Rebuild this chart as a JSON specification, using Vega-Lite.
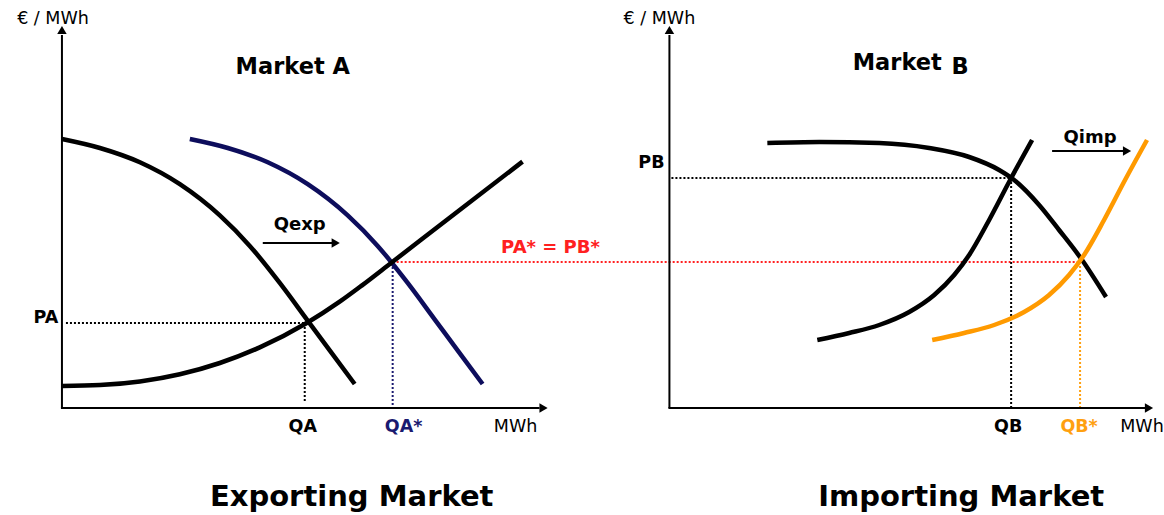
{
  "$schema": "https://vega.github.io/schema/vega-lite/v6.json",
  "width": 1164,
  "height": 515,
  "padding": 0,
  "autosize": {"type": "fit", "contains": "padding"},
  "background": "white",
  "config": {"view": {"stroke": null}, "text": {"font": "DejaVu Sans"}},
  "datasets": {
    "curves": [
      {"series": "Demand A", "x": 62, "y": 376},
      {"series": "Demand A", "x": 100, "y": 367},
      {"series": "Demand A", "x": 140, "y": 352.7},
      {"series": "Demand A", "x": 180, "y": 330.8},
      {"series": "Demand A", "x": 220, "y": 299.6},
      {"series": "Demand A", "x": 250, "y": 269.1},
      {"series": "Demand A", "x": 280, "y": 232.1},
      {"series": "Demand A", "x": 307, "y": 195.7},
      {"series": "Demand A", "x": 330, "y": 164.6},
      {"series": "Demand A", "x": 355, "y": 131},
      {"series": "Demand A + export", "x": 190, "y": 376},
      {"series": "Demand A + export", "x": 228, "y": 367},
      {"series": "Demand A + export", "x": 268, "y": 352.7},
      {"series": "Demand A + export", "x": 308, "y": 330.8},
      {"series": "Demand A + export", "x": 348, "y": 299.6},
      {"series": "Demand A + export", "x": 378, "y": 269.1},
      {"series": "Demand A + export", "x": 408, "y": 232.1},
      {"series": "Demand A + export", "x": 435, "y": 195.7},
      {"series": "Demand A + export", "x": 458, "y": 164.6},
      {"series": "Demand A + export", "x": 483, "y": 131},
      {"series": "Supply A", "x": 62, "y": 129},
      {"series": "Supply A", "x": 100, "y": 129.9},
      {"series": "Supply A", "x": 140, "y": 133.5},
      {"series": "Supply A", "x": 180, "y": 140.7},
      {"series": "Supply A", "x": 220, "y": 152},
      {"series": "Supply A", "x": 260, "y": 167.6},
      {"series": "Supply A", "x": 307, "y": 192},
      {"series": "Supply A", "x": 340, "y": 213.3},
      {"series": "Supply A", "x": 362, "y": 229.4},
      {"series": "Supply A", "x": 392, "y": 252.5},
      {"series": "Supply A", "x": 450, "y": 297.2},
      {"series": "Supply A", "x": 523, "y": 353.4},
      {"series": "Demand B", "x": 768, "y": 372},
      {"series": "Demand B", "x": 820, "y": 373},
      {"series": "Demand B", "x": 880, "y": 372},
      {"series": "Demand B", "x": 930, "y": 367},
      {"series": "Demand B", "x": 970, "y": 358},
      {"series": "Demand B", "x": 1000, "y": 345},
      {"series": "Demand B", "x": 1015, "y": 335},
      {"series": "Demand B", "x": 1040, "y": 310},
      {"series": "Demand B", "x": 1060, "y": 285},
      {"series": "Demand B", "x": 1083, "y": 255},
      {"series": "Demand B", "x": 1107, "y": 218},
      {"series": "Supply B", "x": 818, "y": 175},
      {"series": "Supply B", "x": 850, "y": 182},
      {"series": "Supply B", "x": 880, "y": 190},
      {"series": "Supply B", "x": 910, "y": 203},
      {"series": "Supply B", "x": 935, "y": 220},
      {"series": "Supply B", "x": 955, "y": 240},
      {"series": "Supply B", "x": 970, "y": 260},
      {"series": "Supply B", "x": 990, "y": 295},
      {"series": "Supply B", "x": 1011, "y": 335},
      {"series": "Supply B", "x": 1033, "y": 375},
      {"series": "Supply B + import", "x": 933, "y": 175},
      {"series": "Supply B + import", "x": 965, "y": 182},
      {"series": "Supply B + import", "x": 995, "y": 190},
      {"series": "Supply B + import", "x": 1025, "y": 203},
      {"series": "Supply B + import", "x": 1050, "y": 220},
      {"series": "Supply B + import", "x": 1070, "y": 240},
      {"series": "Supply B + import", "x": 1085, "y": 260},
      {"series": "Supply B + import", "x": 1105, "y": 295},
      {"series": "Supply B + import", "x": 1126, "y": 335},
      {"series": "Supply B + import", "x": 1148, "y": 375}
    ],
    "axes": [
      {"name": "A price axis", "x": 62, "y": 107, "x2": 62, "y2": 480},
      {"name": "A quantity axis", "x": 61, "y": 107, "x2": 540, "y2": 107},
      {"name": "B price axis", "x": 670, "y": 107, "x2": 670, "y2": 480},
      {"name": "B quantity axis", "x": 669, "y": 107, "x2": 1146, "y2": 107},
      {"name": "Qexp arrow", "x": 263, "y": 272, "x2": 333, "y2": 272},
      {"name": "Qimp arrow", "x": 1053, "y": 364, "x2": 1124, "y2": 364}
    ],
    "heads": [
      {"dir": "up", "x": 62, "y": 485},
      {"dir": "right", "x": 544, "y": 107},
      {"dir": "up", "x": 670, "y": 485},
      {"dir": "right", "x": 1150, "y": 107},
      {"dir": "right", "x": 336, "y": 272},
      {"dir": "right", "x": 1128, "y": 364}
    ],
    "guides": [
      {"group": "autarky", "x": 66, "y": 192, "x2": 306, "y2": 192},
      {"group": "autarky", "x": 305, "y": 192, "x2": 305, "y2": 112},
      {"group": "export", "x": 393, "y": 252, "x2": 393, "y2": 108},
      {"group": "coupled", "x": 393, "y": 253, "x2": 1082, "y2": 253},
      {"group": "autarky", "x": 672, "y": 337, "x2": 1012, "y2": 337},
      {"group": "autarky", "x": 1012, "y": 337, "x2": 1012, "y2": 108},
      {"group": "import", "x": 1081, "y": 253, "x2": 1081, "y2": 108}
    ],
    "labels": [
      {"role": "axis", "group": "autarky", "text": "€ / MWh", "x": 53, "y": 496},
      {"role": "axis", "group": "autarky", "text": "€ / MWh", "x": 660, "y": 496},
      {"role": "axis", "group": "autarky", "text": "MWh", "x": 516, "y": 88},
      {"role": "axis", "group": "autarky", "text": "MWh", "x": 1143, "y": 88},
      {"role": "tick", "group": "autarky", "text": "PA", "x": 46, "y": 197},
      {"role": "tick", "group": "autarky", "text": "QA", "x": 303, "y": 88},
      {"role": "tick", "group": "export", "text": "QA*", "x": 404, "y": 88},
      {"role": "tick", "group": "autarky", "text": "PB", "x": 652, "y": 352},
      {"role": "tick", "group": "autarky", "text": "QB", "x": 1009, "y": 88},
      {"role": "tick", "group": "import", "text": "QB*", "x": 1080, "y": 88},
      {"role": "note", "group": "autarky", "text": "Qexp", "x": 300, "y": 290},
      {"role": "note", "group": "autarky", "text": "Qimp", "x": 1091, "y": 377},
      {"role": "note", "group": "coupled", "text": "PA* = PB*", "x": 551, "y": 267},
      {"role": "market", "group": "autarky", "text": "Market  A", "x": 293, "y": 448},
      {"role": "market", "group": "autarky", "text": "Market", "x": 898, "y": 452},
      {"role": "market", "group": "autarky", "text": "B", "x": 961, "y": 448},
      {"role": "title", "group": "autarky", "text": "Exporting Market", "x": 352, "y": 18},
      {"role": "title", "group": "autarky", "text": "Importing Market", "x": 962, "y": 18}
    ]
  },
  "layer": [
    {
      "data": {"name": "guides"},
      "mark": {"type": "rule", "strokeWidth": 2, "strokeDash": [2, 2]},
      "encoding": {
        "x": {"field": "x", "type": "quantitative", "scale": {"domain": [0, 1164], "nice": false, "zero": false}, "axis": null},
        "y": {"field": "y", "type": "quantitative", "scale": {"domain": [0, 515], "nice": false, "zero": false}, "axis": null},
        "x2": {"field": "x2"},
        "y2": {"field": "y2"},
        "color": {"field": "group", "type": "nominal", "legend": null, "scale": {"domain": ["autarky", "export", "coupled", "import", "Demand A", "Demand A + export", "Supply A", "Demand B", "Supply B", "Supply B + import"], "range": ["#000000", "#1a1a70", "#ff2020", "#ffa010", "#000000", "#0d0d5c", "#000000", "#000000", "#000000", "#ff9a00"]}}
      }
    },
    {
      "data": {"name": "curves"},
      "mark": {"type": "line", "strokeWidth": 4.5, "interpolate": "monotone", "strokeCap": "butt"},
      "encoding": {
        "x": {"field": "x", "type": "quantitative"},
        "y": {"field": "y", "type": "quantitative"},
        "color": {"field": "series", "type": "nominal", "legend": null}
      }
    },
    {
      "data": {"name": "axes"},
      "mark": {"type": "rule", "strokeWidth": 2, "color": "black"},
      "encoding": {
        "x": {"field": "x", "type": "quantitative"},
        "y": {"field": "y", "type": "quantitative"},
        "x2": {"field": "x2"},
        "y2": {"field": "y2"}
      }
    },
    {
      "data": {"name": "heads"},
      "mark": {"type": "point", "filled": true, "color": "black", "opacity": 1, "size": 90},
      "encoding": {
        "x": {"field": "x", "type": "quantitative"},
        "y": {"field": "y", "type": "quantitative"},
        "shape": {"field": "dir", "type": "nominal", "legend": null, "scale": {"domain": ["up", "right"], "range": ["triangle-up", "triangle-right"]}}
      }
    },
    {
      "data": {"name": "labels"},
      "transform": [{"filter": "datum.role === 'axis'"}],
      "mark": {"type": "text", "fontSize": 17.5, "baseline": "middle", "align": "center"},
      "encoding": {
        "x": {"field": "x", "type": "quantitative"},
        "y": {"field": "y", "type": "quantitative"},
        "text": {"field": "text"},
        "color": {"field": "group", "type": "nominal", "legend": null}
      }
    },
    {
      "data": {"name": "labels"},
      "transform": [{"filter": "datum.role === 'tick'"}],
      "mark": {"type": "text", "fontSize": 17.5, "fontWeight": "bold", "baseline": "middle", "align": "center"},
      "encoding": {
        "x": {"field": "x", "type": "quantitative"},
        "y": {"field": "y", "type": "quantitative"},
        "text": {"field": "text"},
        "color": {"field": "group", "type": "nominal", "legend": null}
      }
    },
    {
      "data": {"name": "labels"},
      "transform": [{"filter": "datum.role === 'note'"}],
      "mark": {"type": "text", "fontSize": 18, "fontWeight": "bold", "baseline": "middle", "align": "center"},
      "encoding": {
        "x": {"field": "x", "type": "quantitative"},
        "y": {"field": "y", "type": "quantitative"},
        "text": {"field": "text"},
        "color": {"field": "group", "type": "nominal", "legend": null}
      }
    },
    {
      "data": {"name": "labels"},
      "transform": [{"filter": "datum.role === 'market'"}],
      "mark": {"type": "text", "fontSize": 22.5, "fontWeight": "bold", "baseline": "middle", "align": "center"},
      "encoding": {
        "x": {"field": "x", "type": "quantitative"},
        "y": {"field": "y", "type": "quantitative"},
        "text": {"field": "text"},
        "color": {"field": "group", "type": "nominal", "legend": null}
      }
    },
    {
      "data": {"name": "labels"},
      "transform": [{"filter": "datum.role === 'title'"}],
      "mark": {"type": "text", "fontSize": 29, "fontWeight": "bold", "baseline": "middle", "align": "center"},
      "encoding": {
        "x": {"field": "x", "type": "quantitative"},
        "y": {"field": "y", "type": "quantitative"},
        "text": {"field": "text"},
        "color": {"field": "group", "type": "nominal", "legend": null}
      }
    }
  ]
}
